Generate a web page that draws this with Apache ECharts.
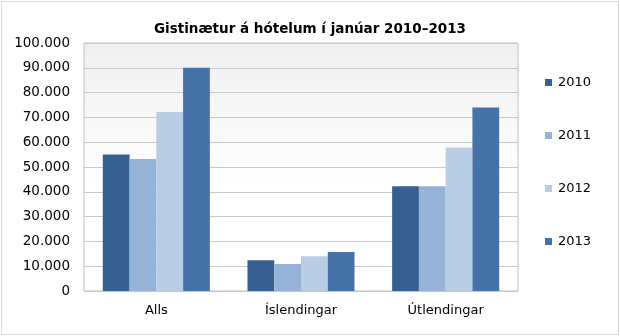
<!DOCTYPE html>
<html>
<head>
<meta charset="utf-8">
<script src="https://cdn.jsdelivr.net/npm/echarts@6/dist/echarts.min.js"></script>
<style>html,body{margin:0;padding:0;background:#fff}#c{width:620px;height:336px}</style>
</head>
<body>
<div id="c"></div>
<script>
var title = 'Gistinætur á hótelum í janúar 2010–2013';
var categories = ['Alls', 'Íslendingar', 'Útlendingar'];
var seriesNames = ['2010', '2011', '2012', '2013'];
var v2010 = [55000, 12400, 42200];
var v2011 = [53200, 10900, 42200];
var v2012 = [72200, 14000, 57900];
var v2013 = [90000, 15700, 74000];
var seriesValues = [v2010, v2011, v2012, v2013];
var colors = ['#365f91', '#95b3d7', '#b9cde5', '#4572a7'];

var FONT = 'DejaVu Sans';
function fmt(v) { return String(v).replace(/\B(?=(\d{3})+(?!\d))/g, '.'); }

var chart = echarts.init(document.getElementById('c'), null, {renderer: 'canvas'});
chart.setOption({
  animation: false,
  color: colors,
  title: {
    text: title, left: 305, top: 17, textAlign: 'center',
    textStyle: {fontFamily: FONT, fontSize: 13.5, fontWeight: 'bold', color: '#000'}
  },
  legend: {
    orient: 'vertical', left: 540, top: 71,
    itemWidth: 7, itemHeight: 7, itemGap: 40,
    icon: 'rect',
    data: seriesNames,
    textStyle: {fontFamily: FONT, fontSize: 13, color: '#000', padding: [0, 0, 0, 1]}
  },
  grid: {
    left: 84, top: 43, right: 102, bottom: 45, containLabel: false,
    show: true, borderColor: '#c0c0c0', borderWidth: 1,
    backgroundColor: {type: 'linear', x: 0, y: 0, x2: 0, y2: 1,
      colorStops: [{offset: 0, color: '#efefef'}, {offset: 0.55, color: '#ffffff'}, {offset: 1, color: '#ffffff'}]}
  },
  xAxis: {
    type: 'category', data: categories,
    axisLine: {show: false}, axisTick: {show: false},
    axisLabel: {fontFamily: FONT, fontSize: 13, color: '#000', margin: 13}
  },
  yAxis: {
    type: 'value', min: 0, max: 100000, interval: 10000,
    axisLine: {show: false}, axisTick: {show: false},
    splitLine: {lineStyle: {color: '#c8c8c8', width: 1}},
    axisLabel: {fontFamily: FONT, fontSize: 13.5, color: '#000', margin: 14, formatter: fmt}
  },
  series: seriesNames.map(function (n, i) {
    return {
      name: n, type: 'bar', data: seriesValues[i],
      barGap: '0%', barCategoryGap: '26%',
      itemStyle: {color: colors[i]}
    };
  }),
  graphic: [{
    type: 'rect', silent: true, z: 100,
    shape: {x: 1.5, y: 1.5, width: 617, height: 333},
    style: {fill: 'none', stroke: '#d9d9d9', lineWidth: 1}
  }]
});
</script>
</body>
</html>
